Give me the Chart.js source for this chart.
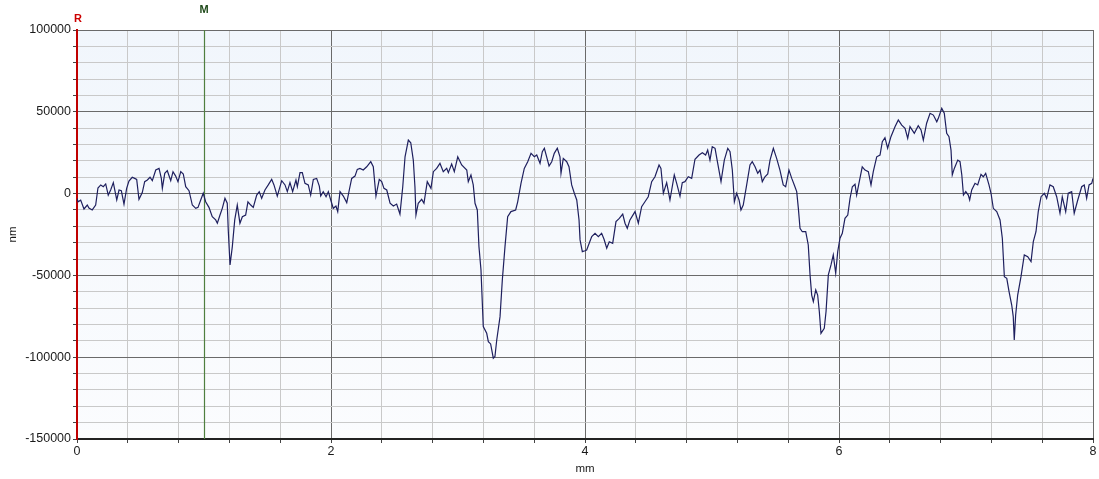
<!DOCTYPE html>
<html>
<head>
<meta charset="utf-8">
<title>Profile</title>
<script src="https://cdn.jsdelivr.net/npm/chart.js@4.4.1/dist/chart.umd.min.js"></script>
<style>
  html, body { margin: 0; padding: 0; background: #ffffff; }
  #wrap { width: 1099px; height: 479px; }
</style>
</head>
<body>
<div id="wrap"><canvas id="profile" width="1099" height="479"></canvas></div>
<script>
// Surface profile: position along the scan (mm) and height (nm)
const positions = [
  0.000, 0.008, 0.029, 0.055, 0.081, 0.094, 0.120, 0.147, 0.165, 0.187,
  0.207, 0.226, 0.246, 0.265, 0.286, 0.313, 0.331, 0.349, 0.370, 0.391,
  0.409, 0.435, 0.454, 0.470, 0.488, 0.514, 0.533, 0.554, 0.575, 0.593,
  0.620, 0.646, 0.664, 0.672, 0.691, 0.711, 0.738, 0.756, 0.777, 0.795,
  0.817, 0.837, 0.856, 0.882, 0.908, 0.935, 0.953, 0.974, 0.994, 1.013,
  1.039, 1.065, 1.092, 1.105, 1.126, 1.144, 1.165, 1.183, 1.191, 1.205,
  1.223, 1.242, 1.262, 1.283, 1.302, 1.328, 1.346, 1.368, 1.388, 1.415,
  1.435, 1.454, 1.480, 1.506, 1.533, 1.551, 1.577, 1.612, 1.638, 1.656,
  1.677, 1.698, 1.724, 1.735, 1.756, 1.774, 1.795, 1.821, 1.840, 1.861,
  1.887, 1.908, 1.919, 1.939, 1.961, 1.979, 1.998, 2.018, 2.039, 2.053,
  2.071, 2.097, 2.124, 2.144, 2.163, 2.189, 2.207, 2.228, 2.254, 2.281,
  2.313, 2.333, 2.354, 2.380, 2.399, 2.417, 2.439, 2.465, 2.491, 2.517,
  2.543, 2.565, 2.583, 2.609, 2.628, 2.648, 2.661, 2.669, 2.687, 2.714,
  2.732, 2.758, 2.787, 2.806, 2.832, 2.858, 2.884, 2.911, 2.924, 2.950,
  2.971, 2.998, 3.029, 3.069, 3.081, 3.102, 3.120, 3.134, 3.152, 3.165,
  3.181, 3.199, 3.226, 3.239, 3.257, 3.278, 3.291, 3.305, 3.331, 3.349,
  3.370, 3.391, 3.417, 3.454, 3.470, 3.496, 3.522, 3.549, 3.575, 3.601,
  3.620, 3.646, 3.664, 3.680, 3.698, 3.717, 3.738, 3.758, 3.782, 3.803,
  3.811, 3.829, 3.856, 3.874, 3.895, 3.916, 3.935, 3.953, 3.961, 3.979,
  4.000, 4.013, 4.053, 4.079, 4.105, 4.131, 4.150, 4.171, 4.191, 4.218,
  4.244, 4.270, 4.297, 4.315, 4.333, 4.354, 4.394, 4.420, 4.446, 4.472,
  4.498, 4.525, 4.551, 4.583, 4.598, 4.617, 4.643, 4.669, 4.703, 4.722,
  4.748, 4.766, 4.787, 4.813, 4.840, 4.866, 4.898, 4.924, 4.950, 4.966,
  4.984, 5.002, 5.024, 5.045, 5.071, 5.097, 5.124, 5.142, 5.160, 5.176,
  5.194, 5.213, 5.228, 5.246, 5.273, 5.299, 5.317, 5.339, 5.360, 5.378,
  5.396, 5.417, 5.439, 5.457, 5.483, 5.509, 5.535, 5.561, 5.580, 5.606,
  5.628, 5.648, 5.667, 5.680, 5.693, 5.711, 5.738, 5.758, 5.772, 5.785,
  5.798, 5.817, 5.832, 5.845, 5.858, 5.884, 5.898, 5.916, 5.937, 5.955,
  5.974, 5.990, 6.008, 6.026, 6.047, 6.069, 6.087, 6.105, 6.126, 6.139,
  6.157, 6.183, 6.205, 6.231, 6.252, 6.270, 6.297, 6.323, 6.341, 6.362,
  6.383, 6.409, 6.441, 6.467, 6.494, 6.520, 6.541, 6.559, 6.593, 6.624,
  6.646, 6.664, 6.690, 6.717, 6.743, 6.770, 6.782, 6.809, 6.829, 6.848,
  6.866, 6.882, 6.892, 6.908, 6.935, 6.953, 6.967, 6.980, 6.998, 7.018,
  7.029, 7.045, 7.071, 7.092, 7.118, 7.136, 7.155, 7.181, 7.197, 7.215,
  7.242, 7.268, 7.286, 7.302, 7.321, 7.339, 7.360, 7.372, 7.380, 7.391,
  7.407, 7.433, 7.459, 7.486, 7.512, 7.530, 7.551, 7.569, 7.591, 7.617,
  7.635, 7.661, 7.687, 7.714, 7.740, 7.758, 7.785, 7.805, 7.832, 7.852,
  7.880, 7.911, 7.931, 7.950, 7.969, 7.990, 8.000
];

const heights = [
  -3000, -5000, -4000, -9400, -7000, -8800, -10000, -7000, 3400, 5300,
  4200, 5900, -900, 2200, 6700, -3900, 2200, 1800, -6400, 3200,
  7700, 10000, 9300, 8700, -3500, 600, 7300, 8300, 10000, 7900,
  14400, 15400, 9300, 3200, 12400, 14000, 7900, 13400, 10700, 7300,
  13400, 12000, 4200, 1800, -7000, -9000, -8400, -3900, 200, -5000,
  -8400, -14100, -16100, -18100, -13100, -9000, -2900, -5900, -22200, -43600,
  -32400, -16100, -7000, -18100, -14100, -13100, -5000, -7000, -8400, -900,
  1200, -2900, 2200, 5300, 8700, 5300, -1500, 7900, 5300, 1200,
  6700, 1200, 8300, 4200, 12800, 12800, 6300, 5300, -900, 8700,
  9300, 4600, -1500, 1200, -1900, 1200, -3900, -9000, -7600, -11000,
  1200, -1500, -5500, 2200, 9300, 10700, 14800, 15400, 14400, 16400,
  19500, 16400, -1500, 8700, 7300, 3200, 2200, -5900, -7600, -6400,
  -12500, 4200, 22500, 32700, 31100, 20500, 4200, -13100, -5900, -3500,
  -5900, 7300, 3200, 13400, 15400, 18500, 13400, 15400, 12800, 18100,
  13400, 22500, 17500, 14400, 7300, 11400, 5300, -5900, -10000, -32400,
  -46700, -81300, -85400, -90500, -91900, -100600, -99600, -89500, -75200, -52800,
  -32400, -14100, -11000, -10000, -5000, 6300, 15400, 19500, 24600, 22500,
  23600, 18500, 25600, 27700, 22500, 16900, 19500, 24600, 27700, 22500,
  12400, 21500, 19500, 16400, 5300, 200, -3900, -16100, -28300, -35500,
  -34900, -34500, -26300, -24300, -26300, -24300, -27900, -33400, -29400, -30400,
  -17100, -15100, -12500, -18100, -21200, -16100, -11000, -18100, -8000, -5000,
  -1900, 7300, 10300, 17500, 15400, 200, 6700, -3900, 11400, 6300,
  -1500, 6700, 7300, 10300, 9300, 21000, 23600, 25000, 23600, 26600,
  20500, 28700, 27700, 18500, 7300, 20500, 27700, 25600, 14400, -5000,
  200, -3900, -10000, -7000, 5300, 17500, 19500, 16400, 12400, 14400,
  7300, 10300, 12000, 20500, 27700, 21500, 14400, 5300, 4200, 14400,
  9300, 5300, 1200, -9000, -21200, -23300, -23300, -31400, -49700, -62000,
  -66000, -58900, -62000, -72100, -85400, -82300, -72100, -49700, -43600, -37500,
  -48700, -35500, -27300, -24300, -15100, -13100, -2900, 4200, 5700, -900,
  6300, 16400, 14400, 13400, 5300, 13400, 22500, 23600, 31700, 34200,
  27700, 34800, 40900, 45000, 41900, 39900, 33800, 40900, 36800, 41500,
  38900, 32700, 43000, 49100, 48000, 43900, 46000, 52100, 49100, 36800,
  34800, 26600, 11400, 15400, 20500, 19500, 11400, -900, 1200, -900,
  -3900, 2200, 6300, 5300, 11800, 10300, 12400, 5300, 200, -9000,
  -11000, -16100, -27300, -50800, -51800, -59900, -68100, -75200, -89500, -74200,
  -62000, -50800, -37500, -38600, -41600, -29400, -23300, -11000, -1900, 200,
  -2900, 5300, 4200, -1900, -12000, -1900, -11000, 200, 1200, -12000,
  -3900, 4200, 5300, -2900, 5300, 6300, 9300
];

// Axis ranges and label steps
const xRange = [0, 8];
const yRange = [-150000, 100000];
const xMinorStep = 0.4;
const xLabelStep = 2;
const yMinorStep = 10000;
const yLabelStep = 50000;

// Cursor markers along the scan
const markerLabels = ['R', 'M'];
const markerPositions = [0, 1.0];

const FONT = '"Liberation Sans", Arial, sans-serif';

function isMultiple(v, step) {
  const r = v / step;
  return Math.abs(r - Math.round(r)) < 1e-6;
}

const points = positions.map((p, i) => ({ x: p, y: heights[i] }));

// Pale blue wash behind the plot
const plotBackground = {
  id: 'plotBackground',
  beforeDraw(chart) {
    const { ctx, chartArea: a } = chart;
    const g = ctx.createLinearGradient(0, a.top, 0, a.bottom);
    g.addColorStop(0, '#f1f6fc');
    g.addColorStop(1, '#fbfcfe');
    ctx.save();
    ctx.fillStyle = g;
    ctx.fillRect(a.left, a.top, a.right - a.left, a.bottom - a.top);
    ctx.restore();
  }
};

// Reference (R) and measure (M) cursors
const cursors = {
  id: 'cursors',
  beforeDatasetsDraw(chart) {
    const { ctx, chartArea: a, scales } = chart;
    ctx.save();
    markerLabels.forEach((lab, i) => {
      const x = Math.round(scales.x.getPixelForValue(markerPositions[i]));
      if (lab === 'M') {
        ctx.strokeStyle = '#4f7f3f';
        ctx.lineWidth = 1.2;
        ctx.beginPath();
        ctx.moveTo(x + 0.5, a.top);
        ctx.lineTo(x + 0.5, a.bottom);
        ctx.stroke();
      }
    });
    ctx.restore();
  },
  afterDraw(chart) {
    const { ctx, chartArea: a, scales } = chart;
    ctx.save();
    ctx.font = 'bold 11px ' + FONT;
    ctx.textAlign = 'center';
    ctx.textBaseline = 'middle';
    markerLabels.forEach((lab, i) => {
      const x = scales.x.getPixelForValue(markerPositions[i]);
      if (lab === 'R') {
        ctx.fillStyle = '#cc0000';
        ctx.fillText(lab, x + 1, a.top - 11);
      } else {
        ctx.fillStyle = '#1f4a1a';
        ctx.fillText(lab, x, a.top - 20);
      }
    });
    ctx.restore();
  }
};

new Chart(document.getElementById('profile'), {
  type: 'line',
  data: {
    datasets: [{
      data: points,
      borderColor: '#1e1f5e',
      borderWidth: 1.2,
      pointRadius: 0,
      tension: 0,
      fill: false
    }]
  },
  options: {
    responsive: false,
    animation: false,
    devicePixelRatio: 1,
    layout: { padding: { top: 30, right: 6, left: 0, bottom: 0 } },
    plugins: {
      legend: { display: false },
      tooltip: { enabled: false }
    },
    scales: {
      x: {
        type: 'linear',
        min: xRange[0],
        max: xRange[1],
        afterFit(scale) { scale.height = 40; },
        border: { color: '#222222', width: 2 },
        grid: {
          color: ctx => isMultiple(ctx.tick.value, xLabelStep) ? '#6a6a6a' : '#c9c9c9',
          lineWidth: 1,
          tickLength: 4,
          tickColor: '#444444'
        },
        ticks: {
          stepSize: xMinorStep,
          autoSkip: false,
          maxRotation: 0,
          padding: 1,
          color: '#1a1a1a',
          font: { family: FONT, size: 12.5 },
          callback: v => isMultiple(v, xLabelStep) ? String(Math.round(v)) : ''
        },
        title: {
          display: true,
          text: 'mm',
          color: '#1a1a1a',
          font: { family: FONT, size: 11.5 },
          padding: { top: 0, bottom: 3 }
        }
      },
      y: {
        type: 'linear',
        min: yRange[0],
        max: yRange[1],
        afterFit(scale) { scale.width = 77; },
        border: { color: '#c00000', width: 2 },
        grid: {
          color: ctx => isMultiple(ctx.tick.value, yLabelStep) ? '#6a6a6a' : '#c9c9c9',
          lineWidth: 1,
          tickLength: 4,
          tickColor: '#444444'
        },
        ticks: {
          stepSize: yMinorStep,
          autoSkip: false,
          padding: 2,
          color: '#1a1a1a',
          font: { family: FONT, size: 12.5 },
          callback: v => isMultiple(v, yLabelStep) ? String(v) : ''
        },
        title: {
          display: true,
          text: 'nm',
          color: '#1a1a1a',
          font: { family: FONT, size: 11.5 },
          padding: { top: 6, bottom: 0 }
        }
      }
    }
  },
  plugins: [plotBackground, cursors]
});
</script>
</body>
</html>
